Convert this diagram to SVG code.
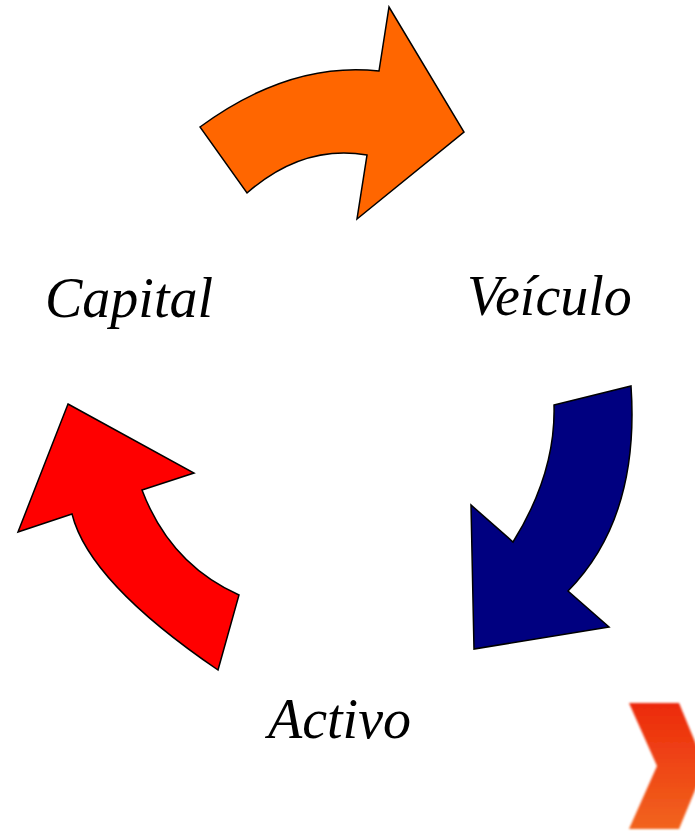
<svg xmlns="http://www.w3.org/2000/svg" width="695" height="832" viewBox="0 0 695 832">
<defs>
<style>
.arrow{stroke:#000;stroke-width:1.5;stroke-linejoin:miter}
.lbl{font-family:"Liberation Serif","Times New Roman",serif;font-style:italic;font-size:56px;fill:#000}
</style>
<linearGradient id="chev" x1="0" y1="0" x2="0" y2="1">
<stop offset="0" stop-color="#ec2a0c"/>
<stop offset="1" stop-color="#f2641e"/>
</linearGradient>
<filter id="soft" x="-10%" y="-10%" width="120%" height="120%"><feGaussianBlur stdDeviation="1"/></filter>
</defs>
<rect width="695" height="832" fill="#fff"/>
<g id="arrow-orange">
<path class="arrow" fill="#ff6600" d="M200,127 Q290,61 379,71 L389,7 L464,132 L357,219 L367,155 Q303,144 247,193 Z"/>
</g>
<g id="arrow-blue">
<path class="arrow" fill="#000080" d="M554,405 L631,386 Q640,518 568,591 L609,627 L474,649 L471,505 L513,542 Q556,473 554,405 Z"/>
</g>
<g id="arrow-red">
<path class="arrow" fill="#ff0000" d="M68,404 L194,473 L142,490 Q170,564 239,595 L218,670 Q89,582 72,514 L18,532 Z"/>
</g>
<g id="capital"><text class="lbl" x="45" y="317">Capital</text></g>
<g id="veiculo"><text class="lbl" x="467" y="315">Veículo</text></g>
<g id="activo"><text class="lbl" x="268" y="738">Activo</text></g>
<g id="chevron">
<path fill="url(#chev)" filter="url(#soft)" d="M629,703 L679,703 L705,766 L679,829 L629,829 L657,766 Z"/>
</g>
</svg>
